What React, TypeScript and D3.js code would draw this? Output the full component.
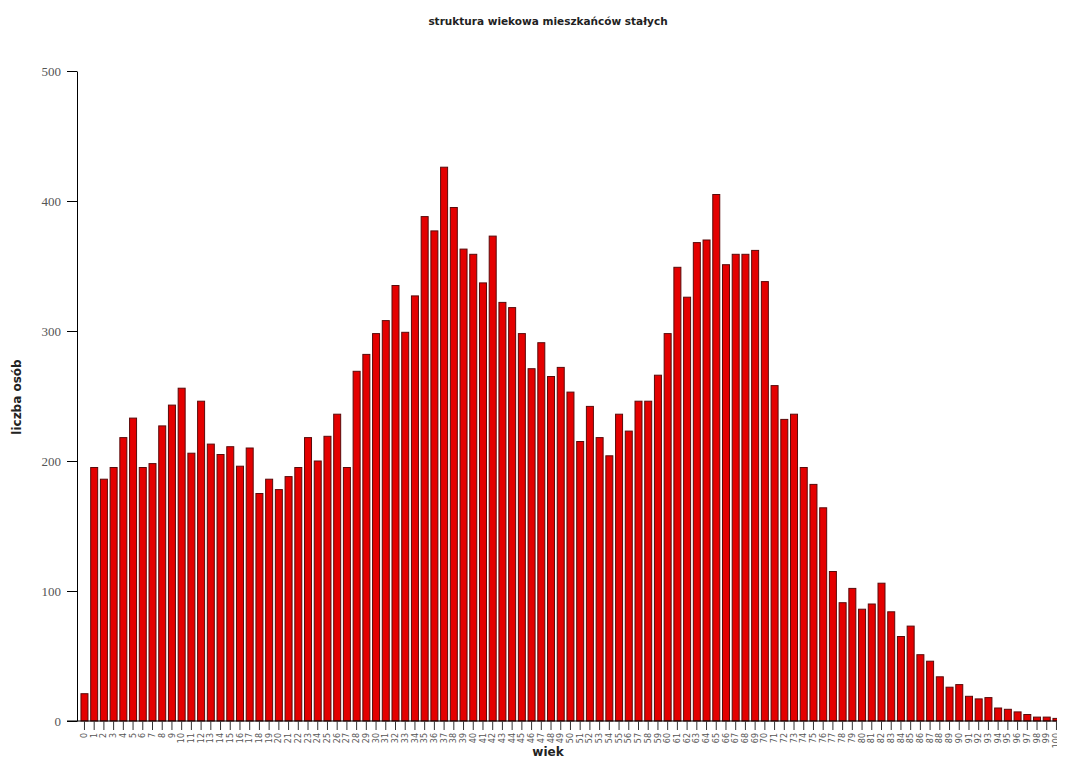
import React, { useEffect, useRef } from 'react';
import * as d3 from 'd3';

// wiek (age) 0..101
const ages: number[] = Array.from({ length: 102 }, (_, i) => i);

// liczba osób per age
const counts: number[] = [
  21, 195, 186, 195, 218, 233, 195, 198, 227, 243,
  256, 206, 246, 213, 205, 211, 196, 210, 175, 186,
  178, 188, 195, 218, 200, 219, 236, 195, 269, 282,
  298, 308, 335, 299, 327, 388, 377, 426, 395, 363,
  359, 337, 373, 322, 318, 298, 271, 291, 265, 272,
  253, 215, 242, 218, 204, 236, 223, 246, 246, 266,
  298, 349, 326, 368, 370, 405, 351, 359, 359, 362,
  338, 258, 232, 236, 195, 182, 164, 115, 91, 102,
  86, 90, 106, 84, 65, 73, 51, 46, 34, 26,
  28, 19, 17, 18, 10, 9, 7, 5, 3, 3,
  2, 1,
];

const yTickValues: number[] = [0, 100, 200, 300, 400, 500];

const title = 'struktura wiekowa mieszkańców stałych';
const xTitle = 'wiek';
const yTitle = 'liczba osób';

const App: React.FC = () => {
  const svgRef = useRef<SVGSVGElement>(null);

  useEffect(() => {
    if (!svgRef.current) return;

    const width = 1057;
    const height = 752;
    const axisX = 69;
    const plotTop = 63;
    const plotBottom = 713;

    const svg = d3.select(svgRef.current).attr('width', width).attr('height', height);
    svg.selectAll('*').remove();

    const x = d3
      .scaleBand<number>()
      .domain(ages)
      .range([71.6, 71.6 + ages.length * 9.72])
      .paddingInner(0.28)
      .paddingOuter(0.14);

    const y = d3.scaleLinear().domain([0, 500]).range([plotBottom, plotTop]);

    // bars
    svg
      .append('g')
      .selectAll('rect')
      .data(counts)
      .enter()
      .append('rect')
      .attr('x', (_, i) => x(ages[i]) ?? 0)
      .attr('y', (d) => y(d))
      .attr('width', x.bandwidth())
      .attr('height', (d) => y(0) - y(d))
      .attr('fill', '#e40000')
      .attr('stroke', '#5a0a0a')
      .attr('stroke-width', 1);

    // y axis
    const yAxis = svg
      .append('g')
      .attr('transform', `translate(${axisX},0)`)
      .call(d3.axisLeft(y).tickValues(yTickValues).tickSize(10).tickSizeOuter(0).tickPadding(6));
    yAxis.select('.domain').attr('stroke', '#000');
    yAxis.selectAll('.tick line').attr('stroke', '#000');
    yAxis
      .selectAll('.tick text')
      .attr('font-family', '"Liberation Serif", serif')
      .attr('font-size', 13)
      .attr('fill', '#555');

    // x axis baseline
    svg
      .append('line')
      .attr('x1', axisX - 10)
      .attr('x2', width)
      .attr('y1', y(0))
      .attr('y2', y(0))
      .attr('stroke', '#000');

    // x ticks
    const xAxis = svg
      .append('g')
      .attr('transform', `translate(0,${y(0)})`)
      .call(d3.axisBottom(x).tickSize(9).tickSizeOuter(0));
    xAxis.select('.domain').remove();
    xAxis.selectAll('.tick line').attr('stroke', '#333');
    xAxis
      .selectAll('.tick text')
      .attr('font-family', '"DejaVu Sans", sans-serif')
      .attr('font-size', 8)
      .attr('fill', '#555')
      .attr('text-anchor', 'end')
      .attr('transform', 'rotate(-90)')
      .attr('x', -12)
      .attr('y', 0)
      .attr('dy', '0.32em');

    // titles
    svg
      .append('text')
      .attr('x', 540)
      .attr('y', 17)
      .attr('text-anchor', 'middle')
      .attr('font-family', '"DejaVu Sans", sans-serif')
      .attr('font-weight', 'bold')
      .attr('font-size', 10.5)
      .attr('fill', '#222')
      .text(title);

    svg
      .append('text')
      .attr('x', 540)
      .attr('y', 748)
      .attr('text-anchor', 'middle')
      .attr('font-family', '"DejaVu Sans", sans-serif')
      .attr('font-weight', 'bold')
      .attr('font-size', 12)
      .attr('fill', '#222')
      .text(xTitle);

    svg
      .append('text')
      .attr('transform', `translate(13,389) rotate(-90)`)
      .attr('text-anchor', 'middle')
      .attr('font-family', '"DejaVu Sans", sans-serif')
      .attr('font-weight', 'bold')
      .attr('font-size', 12)
      .attr('fill', '#222')
      .text(yTitle);
  }, []);

  return <svg ref={svgRef} style={{ display: 'block', overflow: 'hidden' }}></svg>;
};

export default App;
